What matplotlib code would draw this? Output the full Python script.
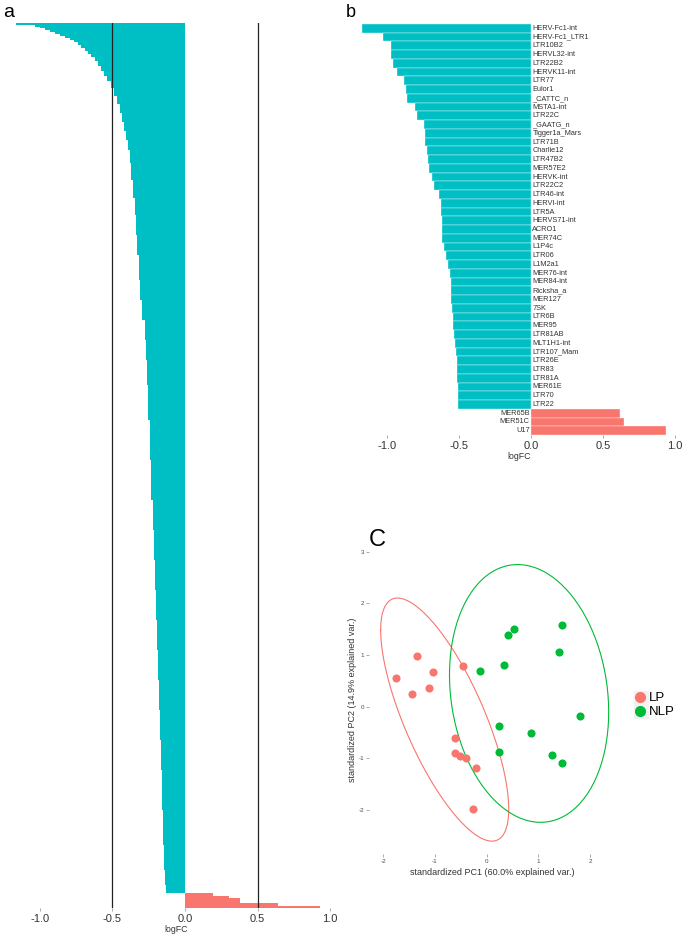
import numpy as np
import matplotlib
matplotlib.use("Agg")
import matplotlib.pyplot as plt
from matplotlib.lines import Line2D
from matplotlib.patches import Rectangle

plt.rcParams['font.family'] = ['Liberation Sans', 'DejaVu Sans']
plt.rcParams['axes.unicode_minus'] = False

CYAN = '#00BFC4'
ROJO = '#F8766D'
VERDE = '#00BA38'
GRIS = '#333333'

# panel a: logFC ordenado, guardado como (valor, numero de barras con ese valor)
a_valores = [-1.166, -1.034, -1.0, -0.966, -0.931, -0.897, -0.862, -0.828,
             -0.793, -0.766, -0.738, -0.717, -0.690, -0.669, -0.648, -0.621,
             -0.600, -0.579, -0.559, -0.538, -0.510, -0.490, -0.469, -0.448,
             -0.434, -0.421, -0.407, -0.393, -0.379, -0.369, -0.359, -0.348,
             -0.338, -0.328, -0.317, -0.307, -0.293, -0.279, -0.269, -0.262,
             -0.253, -0.243, -0.234, -0.224, -0.217, -0.208, -0.200, -0.193,
             -0.186, -0.179, -0.172, -0.166, -0.159, -0.152, -0.145, -0.138,
             -0.128,
             0.195, 0.306, 0.379, 0.644, 0.931]
a_repeticiones = [2, 2, 1, 2, 2, 2, 2, 2,
                  2, 2, 3, 3, 3, 3, 3, 4,
                  5, 5, 5, 5, 7, 8, 8, 9,
                  9, 9, 9, 10, 13, 17, 18, 17,
                  20, 20, 25, 20, 20, 20, 20, 25,
                  35, 40, 40, 30, 30, 30, 30, 30,
                  30, 30, 30, 30, 40, 35, 25, 15,
                  8,
                  3, 2, 5, 3, 2]

# panel b: elementos repetitivos significativos
b_nombres = ['HERV-Fc1-int', 'HERV-Fc1_LTR1', 'LTR10B2', 'HERVL32-int', 'LTR22B2',
             'HERVK11-int', 'LTR77', 'Eulor1', '_CATTC_n', 'MSTA1-int', 'LTR22C',
             '_GAATG_n', 'Tigger1a_Mars', 'LTR71B', 'Charlie12', 'LTR47B2',
             'MER57E2', 'HERVK-int', 'LTR22C2', 'LTR46-int', 'HERVI-int', 'LTR5A',
             'HERVS71-int', 'ACRO1', 'MER74C', 'L1P4c', 'LTR06', 'L1M2a1',
             'MER76-int', 'MER84-int', 'Ricksha_a', 'MER127', '7SK', 'LTR6B',
             'MER95', 'LTR81AB', 'MLT1H1-int', 'LTR107_Mam', 'LTR26E', 'LTR83',
             'LTR81A', 'MER61E', 'LTR70', 'LTR22', 'MER65B', 'MER51C', 'U17']
b_logfc = [-1.174, -1.028, -0.973, -0.970, -0.955, -0.931, -0.878, -0.869, -0.862,
           -0.804, -0.793, -0.742, -0.737, -0.733, -0.723, -0.714, -0.705, -0.687,
           -0.673, -0.636, -0.626, -0.622, -0.619, -0.617, -0.615, -0.601, -0.592,
           -0.578, -0.562, -0.557, -0.553, -0.553, -0.548, -0.543, -0.539, -0.532,
           -0.525, -0.520, -0.515, -0.513, -0.511, -0.509, -0.506, -0.504,
           0.617, 0.647, 0.936]

# panel C: PCA
lp_pc1 = [-1.75, -1.34, -1.04, -1.11, -1.44, -0.45, -0.61, -0.61, -0.52, -0.40, -0.21, -0.27]
lp_pc2 = [0.55, 0.99, 0.67, 0.37, 0.24, 0.79, -0.61, -0.89, -0.95, -0.99, -1.19, -1.97]
nlp_pc1 = [0.53, 0.41, 1.45, 1.40, 0.33, -0.13, 1.80, 0.24, 0.86, 0.24, 1.26, 1.45]
nlp_pc2 = [1.50, 1.38, 1.59, 1.06, 0.81, 0.70, -0.18, -0.38, -0.51, -0.87, -0.93, -1.09]


def elipse(x, y, prob=0.95):
    # elipse normal como en ggbiplot
    sigma = np.cov(x, y)
    mu = np.array([np.mean(x), np.mean(y)])
    ed = np.sqrt(-2 * np.log(1 - prob))
    t = np.linspace(-np.pi, np.pi, 200)
    circulo = np.column_stack([np.cos(t), np.sin(t)])
    r = np.linalg.cholesky(sigma).T
    pts = circulo @ r * ed + mu
    return pts[:, 0], pts[:, 1]


def estilo_ejes(ax, size):
    for s in ax.spines.values():
        s.set_visible(False)
    ax.tick_params(axis='x', length=2, width=0.5, color='#888888',
                   labelsize=size, labelcolor=GRIS, pad=2)


fig = plt.figure(figsize=(6.85, 9.36), dpi=100)
W, H = 685.0, 936.0

# ---------------- panel a
ax_a = fig.add_axes([14 / W, 1 - 908 / H, 324 / W, 885 / H])
vals_a = np.repeat(a_valores, a_repeticiones)
pos_a = np.arange(len(vals_a))
colores_a = [CYAN if v < 0 else ROJO for v in vals_a]
ax_a.barh(pos_a, vals_a, height=1.0, color=colores_a, linewidth=0, antialiased=False)
ax_a.axvline(-0.5, color='#222222', lw=0.9, zorder=3)
ax_a.axvline(0.5, color='#222222', lw=0.9, zorder=3)
ax_a.set_ylim(len(vals_a) - 0.5, -0.5)
ax_a.set_xlim(-1.179, 1.055)
ax_a.set_yticks([])
ax_a.set_xticks([-1.0, -0.5, 0.0, 0.5, 1.0])
ax_a.set_xticklabels(['-1.0', '-0.5', '0.0', '0.5', '1.0'])
estilo_ejes(ax_a, 8)
ax_a.set_xlabel('logFC', fontsize=6.3, color=GRIS, labelpad=1)
fig.text(3 / W, 1 - 17 / H, 'a', fontsize=14, color='black')

# ---------------- panel b
ax_b = fig.add_axes([358 / W, 1 - 435 / H, 322 / W, 411 / H])
pos_b = np.arange(len(b_logfc))
colores_b = [CYAN if v < 0 else ROJO for v in b_logfc]
ax_b.barh(pos_b, b_logfc, height=1.0, color=colores_b, edgecolor='white', linewidth=0.25)
for i, (nombre, v) in enumerate(zip(b_nombres, b_logfc)):
    if v < 0:
        ax_b.text(0.01, i, nombre, ha='left', va='center', fontsize=5.3, color=GRIS)
    else:
        ax_b.text(-0.01, i, nombre, ha='right', va='center', fontsize=5.3, color=GRIS)
ax_b.set_ylim(len(b_logfc) - 0.5, -0.5)
ax_b.set_xlim(-1.2, 1.033)
ax_b.set_yticks([])
ax_b.set_xticks([-1.0, -0.5, 0.0, 0.5, 1.0])
ax_b.set_xticklabels(['-1.0', '-0.5', '0.0', '0.5', '1.0'])
estilo_ejes(ax_b, 8)
ax_b.set_xlabel('logFC', fontsize=6.3, color=GRIS, labelpad=1)
fig.text(346 / W, 1 - 17 / H, 'b', fontsize=13, color='black')

# ---------------- panel C
ax_c = fig.add_axes([369 / W, 1 - 854 / H, 246 / W, 309 / H])
ex, ey = elipse(lp_pc1, lp_pc2)
ax_c.plot(ex, ey, color=ROJO, lw=0.8)
ex, ey = elipse(nlp_pc1, nlp_pc2)
ax_c.plot(ex, ey, color=VERDE, lw=0.8)
ax_c.scatter(lp_pc1, lp_pc2, s=34, color=ROJO, linewidths=0, zorder=3)
ax_c.scatter(nlp_pc1, nlp_pc2, s=34, color=VERDE, linewidths=0, zorder=3)
ax_c.set_xlim(-2.277, 2.482)
ax_c.set_ylim(-2.849, 3.128)
ax_c.set_xticks([-2, -1, 0, 1, 2])
ax_c.set_yticks([-2, -1, 0, 1, 2, 3])
for s in ax_c.spines.values():
    s.set_visible(False)
ax_c.tick_params(length=2, width=0.5, color='#888888', labelsize=4.5,
                 labelcolor='#4D4D4D', pad=1.5)
ax_c.set_xlabel('standardized PC1 (60.0% explained var.)', fontsize=6.5, color=GRIS, labelpad=3)
ax_c.set_ylabel('standardized PC2 (14.9% explained var.)', fontsize=6.5, color=GRIS, labelpad=1)
fig.text(369 / W, 1 - 546 / H, 'C', fontsize=17, color='black')

# leyenda con fondo gris en las claves
for yc in (697.7, 711.0):
    fig.patches.append(Rectangle(((641 - 6.7) / W, 1 - (yc + 6.6) / H), 13.4 / W, 13.2 / H,
                                 transform=fig.transFigure, color='#F2F2F2', zorder=0))
handles = [Line2D([], [], marker='o', ls='', color=ROJO, markersize=7),
           Line2D([], [], marker='o', ls='', color=VERDE, markersize=7)]
fig.legend(handles, ['LP', 'NLP'], loc='upper left', bbox_to_anchor=(633 / W, 1 - 692 / H),
           frameon=False, fontsize=9.5, handlelength=1.0, handletextpad=0.2,
           labelspacing=0.15, borderpad=0, borderaxespad=0)

fig.savefig('out.png', dpi=100, facecolor='white')
